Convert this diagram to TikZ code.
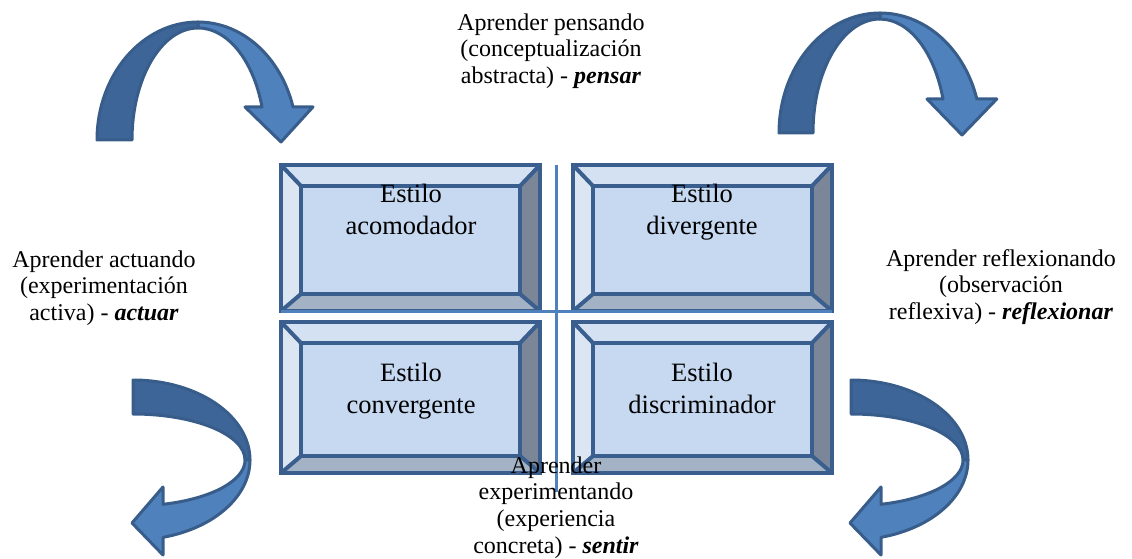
\documentclass[tikz,border=0pt]{standalone}
\usepackage{fontspec}
\setmainfont{Liberation Serif}
\usetikzlibrary{calc}
\definecolor{outl}{HTML}{3A5F8F}
\definecolor{innerc}{HTML}{C6D9F1}
\definecolor{topc}{HTML}{D4E1F2}
\definecolor{leftc}{HTML}{DCE6F3}
\definecolor{rightc}{HTML}{7B8798}
\definecolor{botc}{HTML}{A3B2C4}
\definecolor{lineblue}{HTML}{4F81BD}
\definecolor{arrdarkc}{HTML}{3D6598}
\definecolor{arrlightc}{HTML}{4F81BD}
\definecolor{arroutl}{HTML}{385D8A}
\tikzset{
  bevout/.style={draw=outl,line width=4pt,line join=miter},
  arrdark/.style={fill=arrdarkc,draw=arroutl,line width=3pt,line join=round},
  arrlight/.style={fill=arrlightc,draw=arroutl,line width=3pt,line join=round},
  crossline/.style={draw=lineblue,line width=3pt},
  boxtext/.style={align=center,font=\fontsize{26.5}{32}\selectfont,inner sep=0pt},
  sidetext/.style={align=center,font=\fontsize{24}{26.6}\selectfont,inner sep=0pt}
}
\newcommand\bevbox[9]{%
  \fill[topc] (#2,#5)--(#4,#5)--(#8,#9)--(#6,#9)--cycle;
  \fill[leftc] (#2,#3)--(#2,#5)--(#6,#9)--(#6,#7)--cycle;
  \fill[rightc] (#4,#3)--(#4,#5)--(#8,#9)--(#8,#7)--cycle;
  \fill[botc] (#2,#3)--(#4,#3)--(#8,#7)--(#6,#7)--cycle;
  \fill[innerc] (#6,#7) rectangle (#8,#9);
  \draw[bevout] (#2,#3)--(#6,#7) (#2,#5)--(#6,#9) (#4,#5)--(#8,#9) (#4,#3)--(#8,#7);
  \draw[bevout] (#6,#7) rectangle (#8,#9);
  \draw[bevout] (#2,#3) rectangle (#4,#5);
  \coordinate (#1) at ($(#2,#3)!0.5!(#4,#5)$);
}
\begin{document}
\begin{tikzpicture}[x=1pt,y=1pt]
\useasboundingbox (0,0) rectangle (1132,558);
% boxes
\bevbox{b1}{281}{247}{540}{393}{301}{264}{520}{372}
\bevbox{b2}{573}{247}{832}{393}{593}{264}{812}{372}
\bevbox{b3}{281}{85}{540}{236}{301}{102}{520}{215}
\bevbox{b4}{573}{85}{832}{236}{593}{102}{812}{215}
% cross lines
\coordinate (vt) at (556,393);
\coordinate (vb) at (556,66);
\coordinate (hl) at (281,247);
\coordinate (hr) at (832,247);
\draw[crossline] (vt) -- (vb);
\draw[crossline] (hl) -- (hr);
% box texts
\node[boxtext] (t1) at (411,349) {Estilo\\acomodador};
\node[boxtext] (t2) at (702,346) {Estilo\\divergente};
\node[boxtext] (t3) at (411,167) {Estilo\\convergente};
\node[boxtext] (t4) at (702,169.5) {Estilo\\discriminador};
% side texts
\node[sidetext] (top) at (551,507) {Aprender pensando\\(conceptualización\\abstracta) - \textbf{\textit{pensar}}};
\node[sidetext] (left) at (104,270) {Aprender actuando\\(experimentación\\activa) - \textbf{\textit{actuar}}};
\node[sidetext] (right) at (1001,271) {Aprender reflexionando\\(observación\\reflexiva) - \textbf{\textit{reflexionar}}};
\node[sidetext] (bottom) at (556,50.5) {Aprender\\experimentando\\(experiencia\\concreta) - \textbf{\textit{sentir}}};
% top-left arrow
\filldraw[arrlight] (198,536) arc[start angle=90,end angle=16.3,x radius=99,y radius=118]
  -- ++(20,0) -- (281,416) -- (245,451) -- (262,451)
  arc[start angle=17.1,end angle=90,x radius=67,y radius=112] -- cycle;
\filldraw[arrdark] (97,418) arc[start angle=180,end angle=90,x radius=101,y radius=118]
  -- (198,530) arc[start angle=90,end angle=180,x radius=66,y radius=112] -- cycle;
% top-right arrow
\filldraw[arrlight] (880,545) arc[start angle=90,end angle=16.5,x radius=101,y radius=120]
  -- ++(20,0) -- (962,423) -- (927,459) -- (943,459)
  arc[start angle=17.4,end angle=90,x radius=66,y radius=114] -- cycle;
\filldraw[arrdark] (779,425) arc[start angle=180,end angle=90,x radius=101,y radius=120]
  -- (880,539) arc[start angle=90,end angle=180,x radius=67,y radius=114] -- cycle;
% bottom arrows
\foreach \dx in {0,718}{
\begin{scope}[xshift=\dx]
\filldraw[arrdark] (133,178) arc[start angle=90,end angle=0,x radius=117,y radius=80]
  -- (245,98) arc[start angle=0,end angle=90,x radius=112,y radius=46] -- cycle;
\filldraw[arrlight] (250,98) arc[start angle=0,end angle=-75.1,x radius=117,y radius=80]
  -- (163,3) -- (132,35) -- (163,71) -- (163,53.7)
  arc[start angle=-74.5,end angle=0,x radius=112,y radius=46] -- cycle;
\end{scope}}
\end{tikzpicture}
\end{document}
